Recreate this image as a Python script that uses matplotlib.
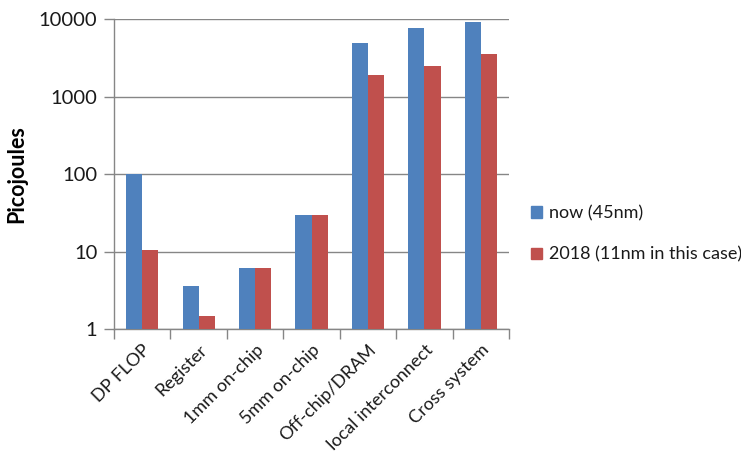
import matplotlib
matplotlib.use("Agg")
import matplotlib.pyplot as plt
import numpy as np
from matplotlib.patches import Patch

categories = ["DP FLOP", "Register", "1mm on-chip", "5mm on-chip",
              "Off-chip/DRAM", "local interconnect", "Cross system"]
now_45nm = [100, 3.55, 6.1, 30, 4900, 7650, 9250]
y2018_11nm = [10.5, 1.49, 6.1, 30, 1920, 2500, 3570]
series_names = ["now (45nm)", "2018 (11nm in this case)"]
yticks = [1, 10, 100, 1000, 10000]
ytick_labels = ["1", "10", "100", "1000", "10000"]

plt.rcParams['font.family'] = ['Lato', 'DejaVu Sans']

blue = "#4F81BD"
red = "#C0504D"
grid_c = "#868686"
txt_c = "#1a1a1a"

fig = plt.figure(figsize=(7.41, 4.59), dpi=100)
ax = fig.add_axes([0.1538, 0.2832, 0.687 - 0.1538, 0.9586 - 0.2832])

x = np.arange(len(categories))
w = 1 / 3.5
ax.bar(x - w / 2, now_45nm, width=w, color=blue, zorder=3)
ax.bar(x + w / 2, y2018_11nm, width=w, color=red, zorder=3)

ax.set_yscale("log")
ax.set_ylim(1, 10000)
ax.set_xlim(-0.5, len(categories) - 0.5)
ax.set_yticks(yticks)
ax.set_yticklabels(ytick_labels)
ax.yaxis.set_minor_locator(matplotlib.ticker.NullLocator())
ax.set_xticks(np.arange(len(categories) + 1) - 0.5)
ax.set_xticklabels([])
ax.set_xticks(x, minor=True)
ax.set_xticklabels(categories, minor=True, rotation=45, ha="right",
                   rotation_mode="anchor", fontsize=13, color=txt_c)
ax.tick_params(axis="x", which="minor", length=0, pad=9)
ax.tick_params(axis="x", which="major", length=7, color=grid_c, width=1)
ax.tick_params(axis="y", which="major", length=7, color=grid_c, width=1,
               labelsize=14.5, labelcolor=txt_c, pad=5)

ax.grid(axis="y", color=grid_c, linewidth=1, zorder=0)
for s in ["top", "right"]:
    ax.spines[s].set_visible(False)
for s in ["left", "bottom"]:
    ax.spines[s].set_color(grid_c)
    ax.spines[s].set_linewidth(1)

ax.set_ylabel("Picojoules", fontsize=15.5, fontweight="bold", labelpad=8,
              color="black")

handles = [Patch(color=blue), Patch(color=red)]
fig.legend(handles, series_names, loc="center left",
           bbox_to_anchor=(0.695, 0.49), frameon=False, fontsize=13,
           handlelength=0.6, handleheight=0.6, labelspacing=1.4,
           handletextpad=0.4, labelcolor=txt_c)

fig.savefig("out.png", dpi=100)
